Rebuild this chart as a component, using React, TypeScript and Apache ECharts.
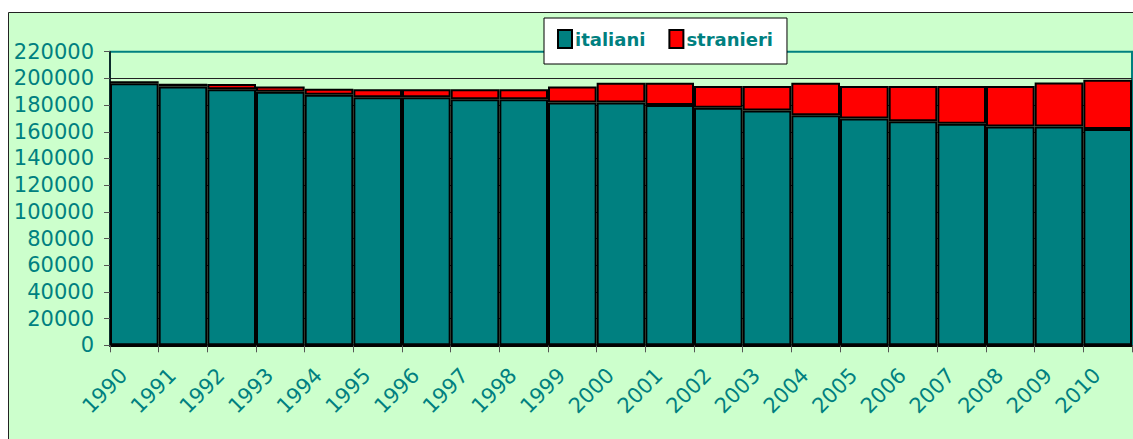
import React, { useEffect, useRef } from "react";
import * as echarts from "echarts";

const years = ["1990","1991","1992","1993","1994","1995","1996","1997","1998","1999","2000","2001","2002","2003","2004","2005","2006","2007","2008","2009","2010"];
const italiani = [196300, 194000, 191800, 190000, 187800, 185800, 185800, 184300, 184300, 182000, 182000, 180000, 178000, 176000, 172300, 170000, 167800, 166000, 164000, 164000, 162000];
const stranieri = [1500, 2000, 4000, 4000, 4500, 6000, 6000, 7500, 7500, 12000, 14800, 16800, 16300, 18300, 24500, 24300, 26500, 28300, 30300, 33000, 37000];
const yMin = 0;
const yMax = 220000;
const yStep = 20000;

const TEAL = "#008080";
const FONT = "DejaVu Sans, Verdana, sans-serif";

export default function App() {
  const ref = useRef<HTMLDivElement>(null);
  useEffect(() => {
    document.body.style.margin = "0";
    document.body.style.overflow = "hidden";
    const chart = echarts.init(ref.current!, null, { renderer: "svg" });
    const splitColors: string[] = [];
    for (let v = yMin; v < yMax; v += yStep) splitColors.push("#222");
    splitColors.push(TEAL);
    chart.setOption({
      animation: false,
      backgroundColor: "#ffffff",
      graphic: [
        {
          type: "rect",
          z: -10,
          silent: true,
          shape: { x: 8.5, y: 12.5, width: 1200, height: 500 },
          style: { fill: "#CCFFCC", stroke: "#222", lineWidth: 1 },
        },
      ],
      grid: {
        left: 110,
        right: 1,
        top: 51.7,
        bottom: 93.7,
        show: true,
        borderColor: TEAL,
        borderWidth: 2,
        backgroundColor: "transparent",
        containLabel: false,
      },
      legend: {
        left: 544,
        top: 18,
        orient: "horizontal",
        backgroundColor: "#ffffff",
        borderColor: "#000",
        borderWidth: 1,
        padding: [11, 14, 15, 13],
        itemWidth: 14,
        itemHeight: 18,
        itemGap: 23,
        icon: "rect",
        textStyle: { color: TEAL, fontWeight: "bold", fontSize: 18, fontFamily: FONT, padding: [0, 0, 0, -2] },
        data: ["italiani", "stranieri"],
      },
      xAxis: {
        type: "category",
        data: years,
        boundaryGap: true,
        axisLine: { show: true, lineStyle: { color: "#000", width: 2 } },
        axisTick: { show: true, length: 7, lineStyle: { color: "#555", width: 1 } },
        axisLabel: {
          rotate: 45,
          interval: 0,
          margin: 16,
          padding: [0, 15, 0, 0],
          color: TEAL,
          fontSize: 21,
          fontFamily: FONT,
        },
        splitLine: { show: false },
      },
      yAxis: {
        type: "value",
        min: yMin,
        max: yMax,
        interval: yStep,
        axisLine: { show: true, lineStyle: { color: "#111", width: 1.5 } },
        axisTick: { show: true, length: 6, lineStyle: { color: "#555", width: 1 } },
        axisLabel: {
          color: TEAL,
          fontSize: 21,
          fontFamily: FONT,
          margin: 16,
          formatter: (v: number) => String(v),
        },
        splitLine: { show: true, lineStyle: { color: splitColors, width: 1 } },
      },
      series: [
        {
          name: "italiani",
          type: "bar",
          stack: "tot",
          data: italiani,
          barWidth: "100%",
          barCategoryGap: "0%",
          itemStyle: { color: TEAL, borderColor: "#000", borderWidth: 2 },
        },
        {
          name: "stranieri",
          type: "bar",
          stack: "tot",
          data: stranieri,
          barWidth: "100%",
          barCategoryGap: "0%",
          itemStyle: { color: "#FF0000", borderColor: "#000", borderWidth: 2 },
        },
      ],
    });
    return () => chart.dispose();
  }, []);
  return <div ref={ref} style={{ width: 1133, height: 439 }} />;
}
